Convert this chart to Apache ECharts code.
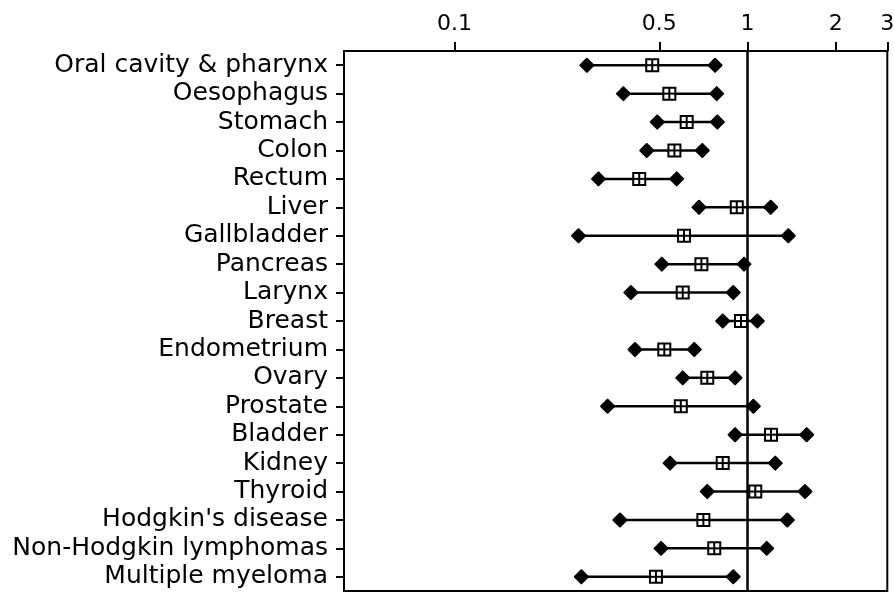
<!DOCTYPE html>
<html>
<head>
<meta charset="utf-8">
<title>Relative risk by cancer site</title>
<script src="https://cdn.jsdelivr.net/npm/echarts@6/dist/echarts.min.js"></script>
<style>
    html, body { margin: 0; padding: 0; background: #fff; }
    #main { width: 894px; height: 597px; }
</style>
</head>
<body>
<div id="main"></div>
<script>
'use strict';

// 部位
var cancerSites = ['Oral cavity & pharynx', 'Oesophagus', 'Stomach', 'Colon', 'Rectum',
    'Liver', 'Gallbladder', 'Pancreas', 'Larynx', 'Breast', 'Endometrium', 'Ovary',
    'Prostate', 'Bladder', 'Kidney', 'Thyroid', "Hodgkin's disease",
    'Non-Hodgkin lymphomas', 'Multiple myeloma'];

// 点估计 + 置信区间
var riskRatio = [0.473, 0.541, 0.620, 0.563, 0.427, 0.919, 0.607, 0.696, 0.601, 0.950,
    0.520, 0.729, 0.592, 1.203, 0.823, 1.063, 0.707, 0.770, 0.487];
var lowerCI = [0.283, 0.377, 0.492, 0.453, 0.310, 0.683, 0.265, 0.510, 0.400, 0.823,
    0.413, 0.601, 0.333, 0.907, 0.544, 0.729, 0.367, 0.507, 0.271];
var upperCI = [0.775, 0.785, 0.789, 0.701, 0.573, 1.200, 1.378, 0.973, 0.894, 1.080,
    0.658, 0.907, 1.047, 1.592, 1.244, 1.571, 1.367, 1.163, 0.894];

var axisTicks = [0.1, 0.5, 1, 2, 3];
var refValue = 1;

(function() {
    var myChart = echarts.init(document.getElementById('main'));

    var seriesData = cancerSites.map(function(name, i) {
        return [lowerCI[i], riskRatio[i], upperCI[i], i];
    });

    function diamond(p, d) {
        return [[p[0] - d, p[1]], [p[0], p[1] - d], [p[0] + d, p[1]], [p[0], p[1] + d]];
    }

    function renderItem(params, api) {
        var y = api.value(3);
        var lo = api.coord([api.value(0), y]);
        var mid = api.coord([api.value(1), y]);
        var hi = api.coord([api.value(2), y]);
        var d = 6.5, s = 6;
        var ink = { stroke: '#000', lineWidth: 2.5 };
        var dot = { fill: '#000', stroke: '#000', lineWidth: 2, lineJoin: 'round' };
        return {
            type: 'group',
            children: [
                { type: 'line', shape: { x1: lo[0], y1: lo[1], x2: hi[0], y2: hi[1] }, style: ink },
                { type: 'polygon', shape: { points: diamond(lo, d) }, style: dot },
                { type: 'polygon', shape: { points: diamond(hi, d) }, style: dot },
                { type: 'rect', shape: { x: mid[0] - s, y: mid[1] - s, width: 2 * s, height: 2 * s },
                  style: { fill: '#fff', stroke: '#000', lineWidth: 2 } },
                { type: 'line', shape: { x1: mid[0] - s, y1: mid[1], x2: mid[0] + s, y2: mid[1] },
                  style: { stroke: '#000', lineWidth: 2 } },
                { type: 'line', shape: { x1: mid[0], y1: mid[1] - s, x2: mid[0], y2: mid[1] + s },
                  style: { stroke: '#000', lineWidth: 2 } }
            ]
        };
    }

    // 竖线 RR = 1
    function renderRefLine(params, api) {
        var x = api.coord([api.value(0), api.value(1)])[0];
        var cs = params.coordSys;
        return {
            type: 'line',
            shape: { x1: x, y1: cs.y, x2: x, y2: cs.y + cs.height },
            style: { stroke: '#000', lineWidth: 2.5 }
        };
    }

    var option = {
        animation: false,
        backgroundColor: '#fff',
        grid: {
            left: 344,
            right: 6.7,
            top: 51,
            bottom: 6,
            outerBoundsMode: 'none',
            containLabel: false,
            show: true,
            borderColor: '#000',
            borderWidth: 2,
            backgroundColor: 'transparent'
        },
        xAxis: {
            type: 'log',
            position: 'top',
            min: 0.04196,
            max: 3,
            splitLine: { show: false },
            axisLine: { show: true, lineStyle: { color: '#000', width: 2 } },
            axisTick: {
                show: true,
                inside: false,
                length: 9,
                customValues: axisTicks,
                lineStyle: { color: '#000', width: 2 }
            },
            minorTick: { show: false },
            axisLabel: {
                customValues: axisTicks,
                margin: 16,
                color: '#000',
                fontFamily: 'DejaVu Sans',
                fontSize: 22,
                formatter: function(v) {
                    return String(+(+v).toPrecision(3));
                }
            }
        },
        yAxis: {
            type: 'category',
            inverse: true,
            data: cancerSites,
            axisLine: { show: true, lineStyle: { color: '#000', width: 2 } },
            axisTick: {
                show: true,
                alignWithLabel: true,
                interval: 0,
                length: 8,
                lineStyle: { color: '#000', width: 2 }
            },
            splitLine: { show: false },
            axisLabel: {
                interval: 0,
                margin: 16,
                color: '#000',
                fontFamily: 'DejaVu Sans',
                fontSize: 25
            }
        },
        series: [{
            type: 'custom',
            renderItem: renderRefLine,
            encode: { x: 0, y: 1 },
            data: [[refValue, 0]],
            silent: true,
            z: 1
        }, {
            type: 'custom',
            renderItem: renderItem,
            encode: { x: [0, 1, 2], y: 3 },
            data: seriesData,
            silent: true,
            z: 2
        }]
    };

    myChart.setOption(option);
})();
</script>
</body>
</html>
